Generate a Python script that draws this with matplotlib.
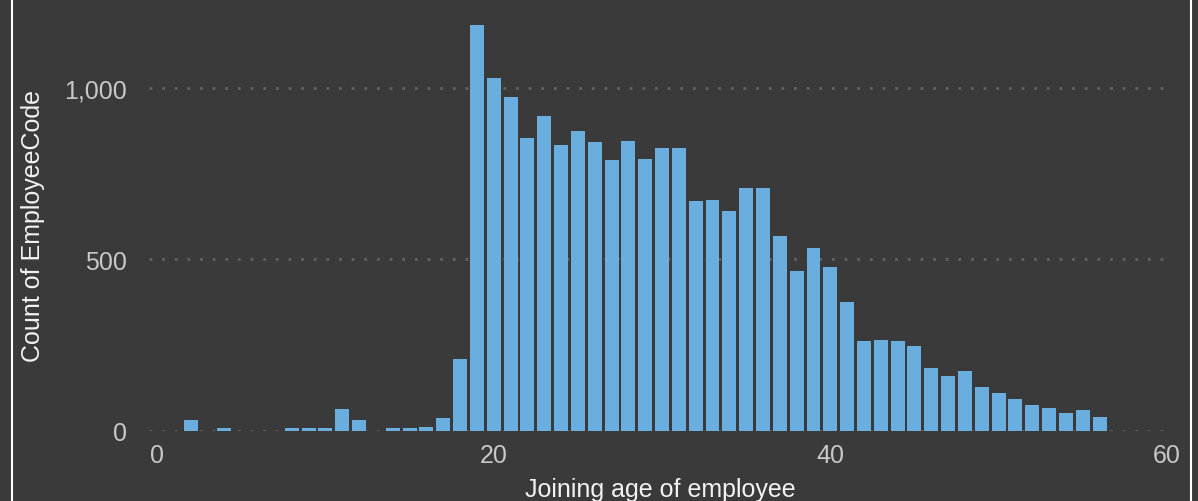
import matplotlib
matplotlib.use("Agg")
import matplotlib.pyplot as plt
from matplotlib.lines import Line2D

ages = [2, 4, 8, 9, 10, 11, 12, 14, 15, 16, 17, 18,
        19, 20, 21, 22, 23, 24, 25, 26, 27, 28, 29, 30, 31,
        32, 33, 34, 35, 36, 37, 38, 39, 40, 41, 42, 43, 44,
        45, 46, 47, 48, 49, 50, 51, 52, 53, 54, 55, 56]
counts = [31, 8, 8, 8, 8, 63, 31, 8, 8, 11, 38, 210,
          1184, 1029, 974, 854, 918, 834, 875, 843, 790, 845, 793, 825, 825,
          670, 673, 641, 708, 708, 568, 466, 533, 478, 376, 262, 265, 262,
          248, 184, 160, 175, 128, 111, 93, 76, 67, 52, 61, 41]
x_ticks = [0, 20, 40, 60]
y_ticks = [0, 500, 1000]
y_tick_labels = ["0", "500", "1,000"]

BG = "#3a3a3a"
BAR = "#6aaddf"
TICK = "#c8c8c8"
LABEL = "#f2f2f2"

plt.rcParams['font.family'] = ['Liberation Sans', 'DejaVu Sans']

W, H = 1198, 502
fig = plt.figure(figsize=(W / 100, H / 100), dpi=100, facecolor=BG)

left_px, right_px = 149, 1172
bottom_px, top_px = 432, 7
ax = fig.add_axes([left_px / W, (H - bottom_px) / H,
                   (right_px - left_px) / W, (bottom_px - top_px) / H])
ax.set_facecolor(BG)

ax.bar(ages, counts, width=0.83, color=BAR, zorder=3)

ax.set_xlim(-0.48, 60.3)
ax.set_ylim(0, 1239)

ax.set_xticks(x_ticks)
ax.set_yticks(y_ticks)
ax.set_yticklabels(y_tick_labels)
ax.tick_params(axis='both', length=0, colors=TICK, labelsize=18)
ax.tick_params(axis='x', pad=9)
ax.tick_params(axis='y', pad=16)

for y in y_ticks:
    ax.axhline(y, color="#626262", linewidth=2.0, linestyle=(0, (1.0, 3.55)),
               zorder=1)

for s in ax.spines.values():
    s.set_visible(False)

fig.text(660 / W, 1 - 490 / H, "Joining age of employee", color=LABEL,
         fontsize=18, ha='center', va='center')
fig.text(33 / W, 1 - 226 / H, "Count of EmployeeCode", color=LABEL,
         fontsize=18, ha='center', va='center', rotation=90)

# white frame edges
fig.add_artist(Line2D([11.5 / W, 11.5 / W], [0, 1], color="white",
                      linewidth=1.5, transform=fig.transFigure))
fig.add_artist(Line2D([1191 / W, 1191 / W], [0, 1], color="white",
                      linewidth=1.5, transform=fig.transFigure))

fig.savefig("out.png", dpi=100, facecolor=BG)
